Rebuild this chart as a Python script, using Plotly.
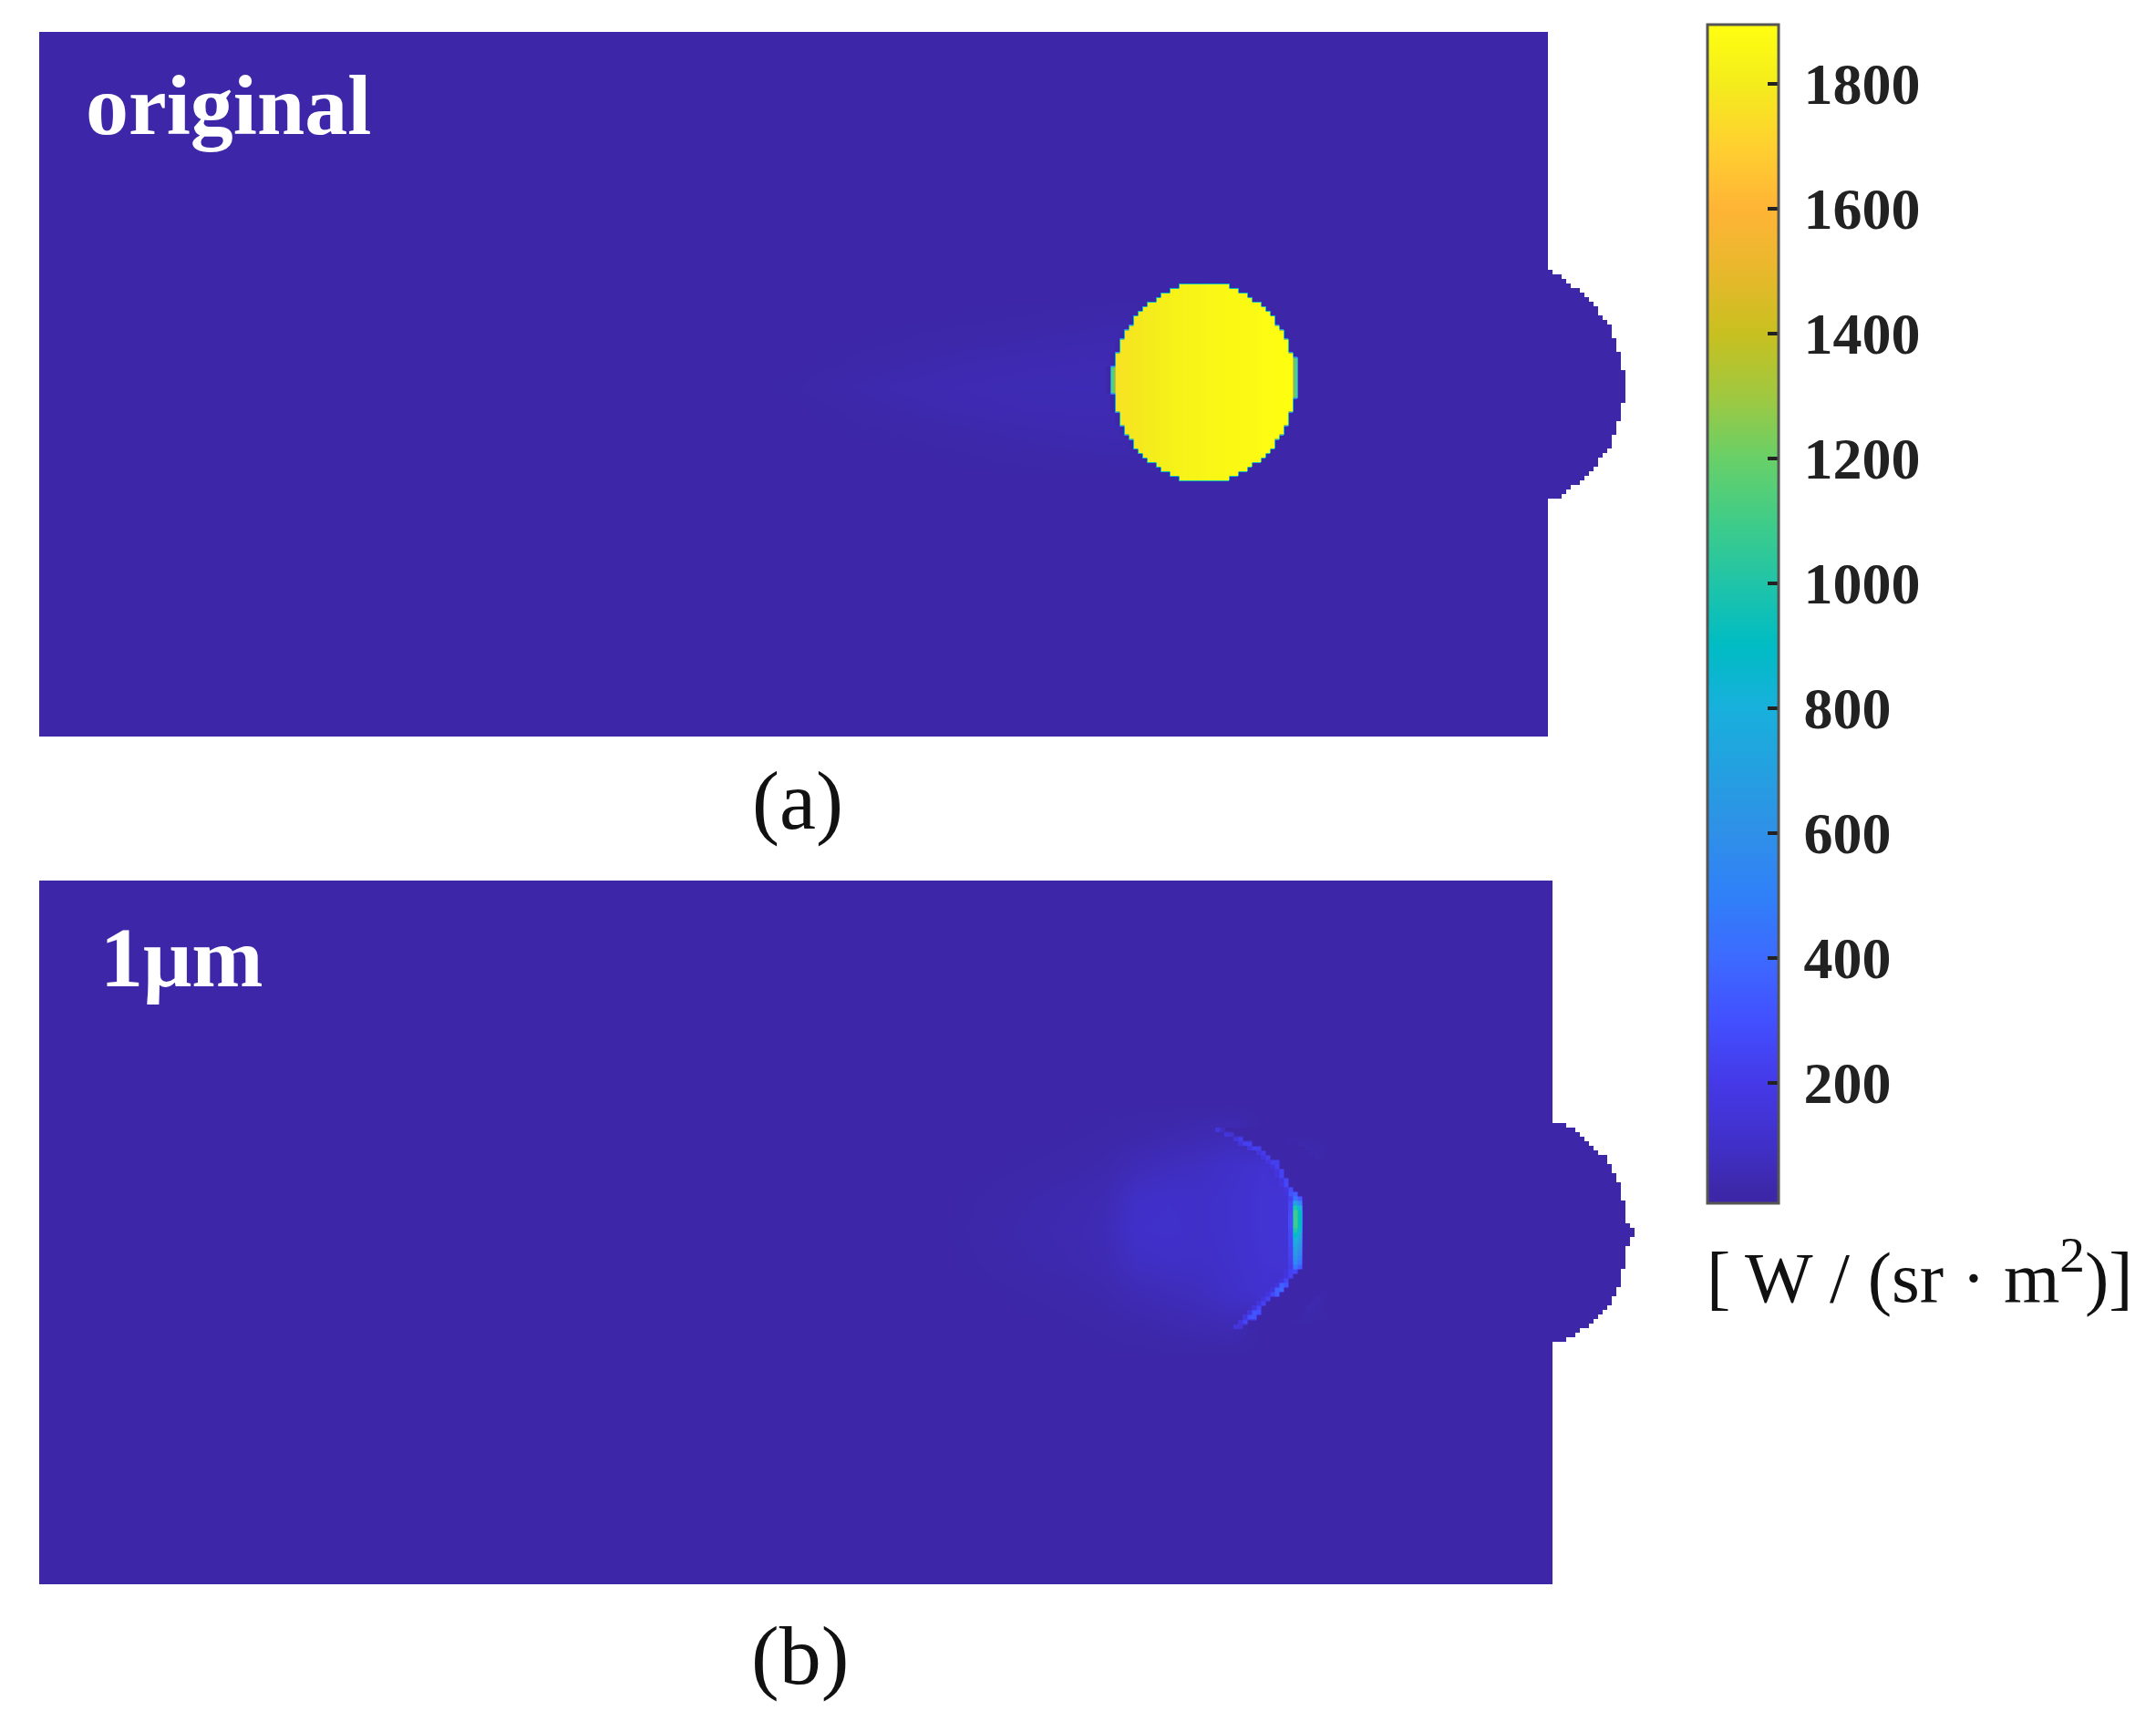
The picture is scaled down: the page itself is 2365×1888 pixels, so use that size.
"""Radiance maps of the original field and the 1 um case, sharing one colour bar."""
import numpy as np
import plotly.graph_objects as go

FIG_W, FIG_H = 2365, 1888
CELL = 5  # px per map cell, across
SERIF = "Liberation Serif"

# colour bar
Z_MIN, Z_MAX = 7, 1895
BAR_TICK_STEP = 200
COLOR_LEVELS = [7, 30, 100, 200, 300, 400, 500, 600, 700, 800, 900, 1000, 1100,
                1200, 1300, 1400, 1500, 1600, 1700, 1800, 1895]
COLOR_HEX = ["#3D26A6", "#3D28AA", "#4030C8", "#4539E8", "#4250FF", "#3D6AFF", "#3080F8",
             "#2F90E8", "#24A0E0", "#18B0DC", "#00BCC4", "#20C4A8", "#40CC88", "#68D068",
             "#A0C840", "#C8C020", "#E8B82C", "#FFB436", "#FFD030", "#F4EC1C", "#FFFF10"]
BACKGROUND = 20

# panel (a), in map cells
A_ROWS, A_EDGE = 154, 331
A_BUMP_FIRST_ROW = 52
A_BUMP_WIDTH = [1, 3, 4, 5, 7, 8, 9, 10, 11, 11, 12, 13, 14, 14, 14, 15, 15, 15, 16, 16, 16, 16, 17, 17, 17, 17,
                17, 17, 17, 16, 16, 16, 16, 15, 15, 15, 14, 14, 14, 13, 12, 11, 11, 10, 9, 8, 7, 5, 4, 3]
A_GLOW_COLS = [155, 165, 175, 185, 195, 205, 215, 225, 235, 245]
A_GLOW_ROWS = [57, 62, 67, 72, 77, 82, 87, 92, 97]
A_GLOW = [[20, 20, 20, 20, 20, 20, 20, 20, 20, 20],
          [20, 20, 20, 20, 21, 23, 25, 28, 32, 32],
          [20, 20, 21, 23, 27, 31, 35, 39, 42, 42],
          [20, 20, 24, 31, 38, 44, 48, 50, 52, 52],
          [20, 23, 32, 42, 48, 52, 55, 55, 55, 55],
          [20, 20, 24, 32, 40, 46, 50, 52, 52, 52],
          [20, 20, 21, 23, 28, 33, 38, 42, 45, 45],
          [20, 20, 20, 20, 21, 24, 28, 32, 35, 35],
          [20, 20, 20, 20, 20, 20, 20, 20, 20, 20]]
A_DISC_FIRST_ROW = 55
A_DISC_LEFT = [250, 248, 246, 245, 243, 242, 241, 240, 240, 239, 238, 238, 237, 237, 237, 236, 236, 236, 236, 236,
               235, 235, 235, 236, 236, 236, 236, 236, 237, 237, 237, 238, 238, 239, 240, 240, 241, 242, 243, 245,
               246, 248, 250]
A_DISC_RIGHT = [260, 262, 264, 265, 267, 268, 269, 270, 270, 271, 272, 272, 273, 273, 273, 274, 274, 274, 274, 274,
                275, 275, 275, 274, 274, 274, 274, 274, 273, 273, 273, 272, 272, 271, 270, 270, 269, 268, 267, 265,
                264, 262, 260]
A_DISC_FIRST_COL = 235
A_DISC_COL_LEVEL = [1760, 1765, 1770, 1775, 1780, 1785, 1790, 1795, 1800, 1805, 1810, 1815, 1820, 1825, 1830,
                    1832, 1835, 1838, 1840, 1842, 1845, 1848, 1850, 1852, 1855, 1858, 1860, 1862, 1865, 1868,
                    1870, 1872, 1875, 1878, 1880, 1882, 1885, 1887, 1890, 1892, 1893, 1895]
A_RIM_ROW = [73, 74, 75, 76, 77, 78, 71, 72, 73, 74, 75, 76, 77, 78, 79]
A_RIM_COL = [235, 235, 235, 235, 235, 235, 275, 275, 275, 275, 275, 275, 275, 275, 275]
A_RIM_LEVEL = 1150
A_RING_LEVEL = 22

# panel (b), in map cells
B_ROWS, B_EDGE = 154, 332
B_BUMP_FIRST_ROW = 53
B_BUMP_WIDTH = [3, 5, 6, 7, 8, 9, 10, 12, 12, 13, 13, 14, 14, 15, 15, 15, 15, 16, 16,
                16, 16, 16, 17, 18, 18, 17, 17, 16, 16, 16, 16, 16, 15, 15, 15, 15, 14, 14, 13,
                13, 12, 11, 10, 9, 8, 6, 5, 3]
B_GLOW_COLS = [198, 205, 212, 219, 226, 233, 240, 247, 254, 261, 268, 275, 282]
B_GLOW_ROWS = [48, 55, 62, 69, 76, 83, 90, 97, 104]
B_GLOW = [[20, 20, 20, 20, 20, 20, 20, 20, 20, 20, 20, 20, 20],
          [20, 20, 20, 20, 22, 26, 32, 40, 50, 60, 20, 20, 20],
          [20, 20, 22, 26, 30, 38, 60, 75, 85, 105, 130, 100, 20],
          [20, 24, 30, 36, 42, 52, 95, 105, 100, 115, 135, 140, 20],
          [20, 26, 34, 40, 46, 58, 105, 110, 100, 115, 135, 140, 20],
          [20, 24, 30, 36, 42, 52, 85, 95, 95, 110, 130, 140, 20],
          [20, 20, 22, 26, 30, 38, 55, 65, 75, 100, 125, 90, 20],
          [20, 20, 20, 20, 22, 26, 32, 40, 48, 55, 20, 20, 20],
          [20, 20, 20, 20, 20, 20, 20, 20, 20, 20, 20, 20, 20]]
B_ARC_FIRST_ROW = 54
B_ARC_RIGHT = [259, 261, 263, 265, 267, 268, 269, 271, 271, 272, 272, 273, 273, 274, 275,
               276, 276, 276, 276, 276, 276, 276, 276, 276, 276, 276, 276, 276, 276, 276, 276,
               275, 274, 273, 273, 272, 271, 269, 268, 267, 267, 266, 264, 263]
B_ARC_MASK_CELLS = 10
B_STRIP_FIRST_ROW = 69
B_STRIP_274 = [220, 250, 260, 270, 280, 280, 280, 270, 260, 250, 250, 240, 240, 230, 220, 200]
B_STRIP_275 = [450, 700, 1000, 1100, 1100, 1100, 1100, 1000, 900, 800, 750, 700, 650, 600, 550, 450]
B_STRIP_276 = [350, 550, 800, 900, 900, 900, 900, 850, 750, 700, 650, 600, 550, 500, 450, 350]
B_RIM_ROW = [54, 55, 56, 57, 57, 58, 58, 59, 60, 61, 61, 62, 63, 64, 65, 66, 67, 68, 68,
             85, 85, 86, 87, 88, 88, 89, 89, 90, 90, 91, 92, 93, 94, 94, 95, 95, 96, 97]
B_RIM_COL = [259, 261, 263, 264, 265, 266, 267, 268, 269, 270, 271, 271, 272, 272, 273, 273, 274, 274, 275,
             275, 274, 274, 273, 273, 272, 272, 271, 271, 270, 269, 268, 267, 267, 266, 266, 265, 264, 263]
B_RIM_LEVEL = [80, 130, 210, 230, 230, 230, 220, 210, 220, 230, 230, 230, 240, 240, 250, 260, 280, 320, 360,
               260, 240, 240, 260, 320, 360, 380, 360, 360, 260, 240, 240, 260, 300, 320, 320, 300, 260, 140]
B_RIM_INNER_LEVEL = 160


def _field(rows, edge, bump_row, bump_width):
    """Background rectangle with the half-round bump on its right side; NaN stays white."""
    cols = edge + max(bump_width)
    z = np.full((rows, cols), np.nan)
    z[:, :edge] = BACKGROUND
    for i, w in enumerate(bump_width):
        z[bump_row + i, edge:edge + w] = BACKGROUND
    return z


def disc_a(shape):
    z = np.full(shape, np.nan)
    for i, (lo, hi) in enumerate(zip(A_DISC_LEFT, A_DISC_RIGHT)):
        for c in range(lo, hi + 1):
            z[A_DISC_FIRST_ROW + i, c] = A_DISC_COL_LEVEL[c - A_DISC_FIRST_COL]
    for r, c in zip(A_RIM_ROW, A_RIM_COL):
        z[r, c] = A_RIM_LEVEL
    # one ring of near-background cells, so the edge blends through the colour scale
    full = ~np.isnan(z)
    ring = np.zeros_like(full)
    ring[1:, :] |= full[:-1, :]
    ring[:-1, :] |= full[1:, :]
    ring[:, 1:] |= full[:, :-1]
    ring[:, :-1] |= full[:, 1:]
    z[ring & ~full] = A_RING_LEVEL
    return z


def rim_b(shape):
    z = np.full(shape, np.nan)
    # cells right of the arc go back to background, the glow stops sharply there
    for i, hi in enumerate(B_ARC_RIGHT):
        z[B_ARC_FIRST_ROW + i, hi + 1:hi + 1 + B_ARC_MASK_CELLS] = BACKGROUND
    # softer band just inside the rim
    for r, c in zip(B_RIM_ROW, B_RIM_COL):
        z[r, c - 1] = B_RIM_INNER_LEVEL
    for i in range(len(B_STRIP_275)):
        z[B_STRIP_FIRST_ROW + i, 274] = B_STRIP_274[i]
        z[B_STRIP_FIRST_ROW + i, 275] = B_STRIP_275[i]
        z[B_STRIP_FIRST_ROW + i, 276] = B_STRIP_276[i]
    for r, c, level in zip(B_RIM_ROW, B_RIM_COL, B_RIM_LEVEL):
        z[r, c] = level
    return z


def _px_x(x):
    return x / FIG_W


def _px_y(y):
    return 1 - y / FIG_H


def _map_axes(fig, suffix, left, top, bottom, z):
    rows, cols = z.shape
    fig.update_layout({
        f"xaxis{suffix}": dict(visible=False, range=[-0.5, cols - 0.5], anchor=f"y{suffix}",
                               domain=[_px_x(left), _px_x(left + cols * CELL)]),
        f"yaxis{suffix}": dict(visible=False, range=[rows - 0.5, -0.5], anchor=f"x{suffix}",
                               domain=[_px_y(bottom), _px_y(top)]),
    })


def _heat(fig, z, suffix, x=None, y=None, doubled=False):
    if doubled:
        # half-size cells keep the blended edge thin
        rows, cols = z.shape
        z = np.repeat(np.repeat(z, 2, axis=0), 2, axis=1)
        x = np.arange(2 * cols) / 2 - 0.25
        y = np.arange(2 * rows) / 2 - 0.25
    fig.add_trace(go.Heatmap(z=z, x=x, y=y, coloraxis="coloraxis", zsmooth="best",
                             xaxis=f"x{suffix}", yaxis=f"y{suffix}", hoverongaps=False))


def _label(fig, text, x, baseline, size, color="#111111", bold=False):
    fig.add_annotation(
        text=f"<b>{text}</b>" if bold else text,
        xref="paper", yref="paper", x=_px_x(x), y=_px_y(baseline - 0.35 * size),
        xanchor="left", yanchor="middle", showarrow=False,
        font=dict(family=SERIF, size=size, color=color),
    )


z_a = _field(A_ROWS, A_EDGE, A_BUMP_FIRST_ROW, A_BUMP_WIDTH)
z_b = _field(B_ROWS, B_EDGE, B_BUMP_FIRST_ROW, B_BUMP_WIDTH)

fig = go.Figure()
_heat(fig, z_a, "")
_heat(fig, np.array(A_GLOW), "", x=A_GLOW_COLS, y=A_GLOW_ROWS)
_heat(fig, disc_a(z_a.shape), "", doubled=True)
_heat(fig, z_b, "2")
_heat(fig, np.array(B_GLOW), "2", x=B_GLOW_COLS, y=B_GLOW_ROWS)
_heat(fig, rim_b(z_b.shape), "2", doubled=True)

_map_axes(fig, "", 43, 35, 808, z_a)
_map_axes(fig, "2", 43, 966, 1738, z_b)

scale = [[(v - Z_MIN) / (Z_MAX - Z_MIN), c] for v, c in zip(COLOR_LEVELS, COLOR_HEX)]
fig.update_layout(
    width=FIG_W, height=FIG_H,
    margin=dict(l=0, r=0, t=0, b=0),
    paper_bgcolor="white", plot_bgcolor="white",
    coloraxis=dict(
        cmin=Z_MIN, cmax=Z_MAX, colorscale=scale,
        colorbar=dict(
            x=_px_x(1873), xanchor="left", xpad=0, ypad=0,
            y=_px_y(27), yanchor="top",
            len=(1320 - 27) / FIG_H, lenmode="fraction",
            thickness=78, thicknessmode="pixels",
            outlinecolor="#555555", outlinewidth=3,
            tickmode="linear", tick0=0, dtick=BAR_TICK_STEP, tickprefix="\u2009",
            ticks="inside", ticklen=13, tickwidth=4, tickcolor="#222222",
            tickfont=dict(family=SERIF, size=64, color="#222222", weight="bold"),
        ),
    ),
)

_label(fig, "original", 92, 148, 94, color="white", bold=True)
_label(fig, "1μm", 108, 1083, 94, color="white", bold=True)
_label(fig, "(a)", 823, 911, 90)
_label(fig, "(b)", 822, 1848, 92)
_label(fig, "[\u2009W / (sr · m<sup>2</sup>)]", 1870, 1423, 79)

fig.write_html("out.html", post_script="document.body.style.margin = '0';",
               config={"displayModeBar": False})
